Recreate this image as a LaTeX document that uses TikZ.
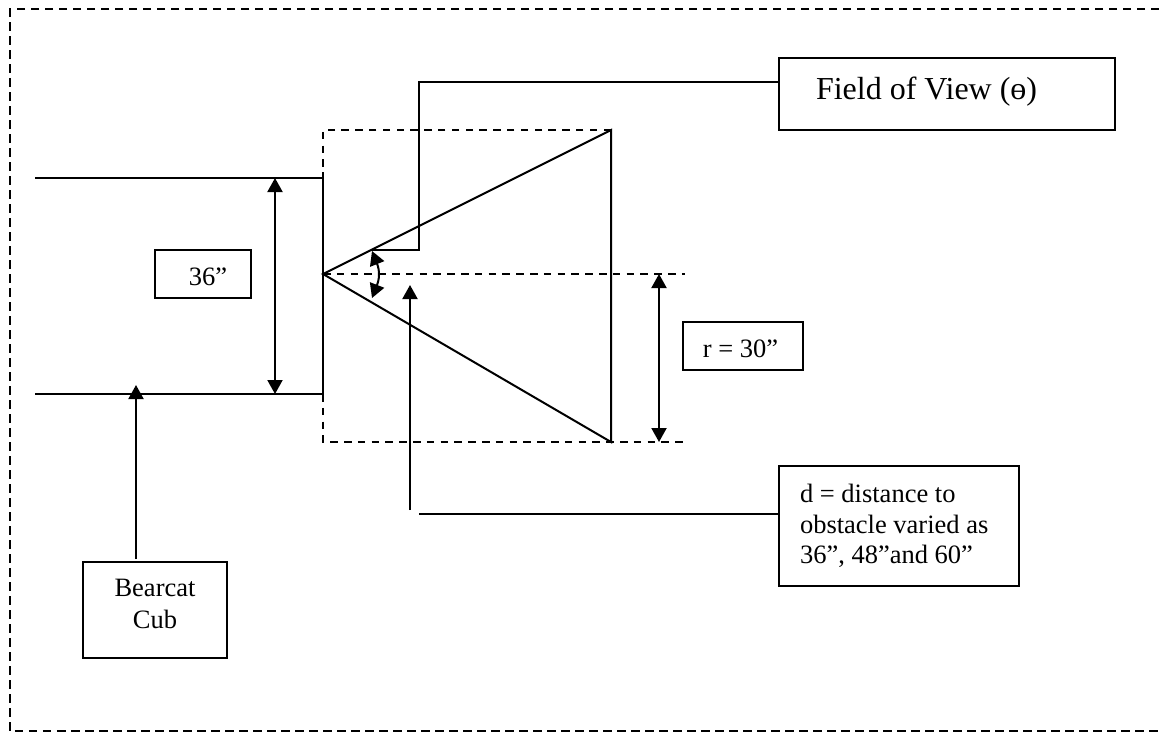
\documentclass[tikz,border=0pt]{standalone}
\usepackage{fontspec}
\setmainfont{Liberation Serif}
\usetikzlibrary{arrows.meta,calc}
\tikzset{
  ln/.style={line width=2pt,black},
  outerdash/.style={line width=2pt,dash pattern=on 8.5pt off 5.5pt},
  innerdash/.style={line width=2pt,dash pattern=on 7.5pt off 6.3pt},
  one/.style={ln,-{Triangle[length=14pt,width=15pt]}},
  two/.style={ln,{Triangle[length=14pt,width=15pt]}-{Triangle[length=14pt,width=15pt]}},
  box/.style={draw,line width=2.1pt,outer sep=0pt,inner sep=0pt,font=\fontsize{26.5}{30.5}\selectfont},
}
\begin{document}
\begin{tikzpicture}[x=1pt,y=-1pt]
\useasboundingbox (0,0) rectangle (1159,732);
% text boxes
\node[box,minimum width=336pt,minimum height=72pt,text width=262pt,align=flush left,
      font=\fontsize{32}{36}\selectfont,text height=22pt,text depth=12pt] (fov) at (947,94) {Field of View (ө)};
\node[box,minimum width=96pt,minimum height=48pt,text height=22pt,text depth=0pt] (wid) at (203,274) {\hspace*{10pt}36”};
\node[box,minimum width=120pt,minimum height=48pt,text height=24pt,text depth=2pt] (rad) at (743,346) {r = 30”\hspace*{5pt}};
\node[box,minimum width=240pt,minimum height=120pt,text width=198pt,align=flush left] (dist) at (899,526) {d = distance to\\obstacle varied as\\36”, 48”and 60”};
\node[box,minimum width=144pt,minimum height=96pt,align=center,font=\fontsize{26.5}{32}\selectfont,text depth=12pt] (cub) at (155,610) {Bearcat\\Cub};
% named points
\coordinate (oTL) at (10,9);
\coordinate (oBL) at (10,731);
\coordinate (oTR) at (1159,9);
\coordinate (oBR) at (1159,731);
\coordinate (apex) at (323,274);
\coordinate (robotTop) at (323,172);
\coordinate (robotBot) at (323,394);
\coordinate (bodyTop) at (35,178);
\coordinate (bodyBot) at (35,394);
\coordinate (fovTop) at (611,130);
\coordinate (fovBot) at (611,442);
\coordinate (dashTL) at (323,130);
\coordinate (dashBL) at (323,442);
\coordinate (dashBR) at (685,442);
\coordinate (dashMR) at (685,274);
\coordinate (k1) at (419,82);
\coordinate (k2) at (419,250);
\coordinate (k3) at (372,250);
\coordinate (arcTop) at (372,251);
\coordinate (arcBot) at (372,298);
\coordinate (wTop) at (275,178);
\coordinate (wBot) at (275,394);
\coordinate (rTop) at (659,274);
\coordinate (rBot) at (659,442);
\coordinate (cubTip) at (136,385);
\coordinate (cubEnd) at (136,559);
\coordinate (dTip) at (410,285);
\coordinate (dEnd) at (410,510);
\coordinate (dLine) at (419,514);
% outer dashed frame, open on the right
\draw[outerdash] (oTR) -- (oTL) -- (oBL) -- (oBR);
% inner dashed lines
\draw[innerdash] (fovTop) -- (dashTL) -- (robotTop);
\draw[innerdash] (robotBot) -- (dashBL) -- (dashBR);
\draw[innerdash] (apex) -- (dashMR);
% robot and field of view
\draw[ln] (bodyTop) -- (bodyTop -| robotTop);
\draw[ln] (robotTop) -- (robotBot) -- (bodyBot);
\draw[ln,line join=miter] (apex) -- (fovTop) -- (fovBot) -- cycle;
% connectors
\draw[ln] (fov.west |- k1) -- (k1) -- (k2) -- (k3);
\draw[ln] (dist.west |- dLine) -- (dLine);
\draw[one] (dEnd) -- (dTip);
\draw[one] (cubEnd) -- (cubTip);
\draw[two] (wTop) -- (wBot);
\draw[two] (rTop) -- (rBot);
\draw[two] (arcTop) .. controls (378,266) and (381,275) .. (arcBot);
\end{tikzpicture}
\end{document}
